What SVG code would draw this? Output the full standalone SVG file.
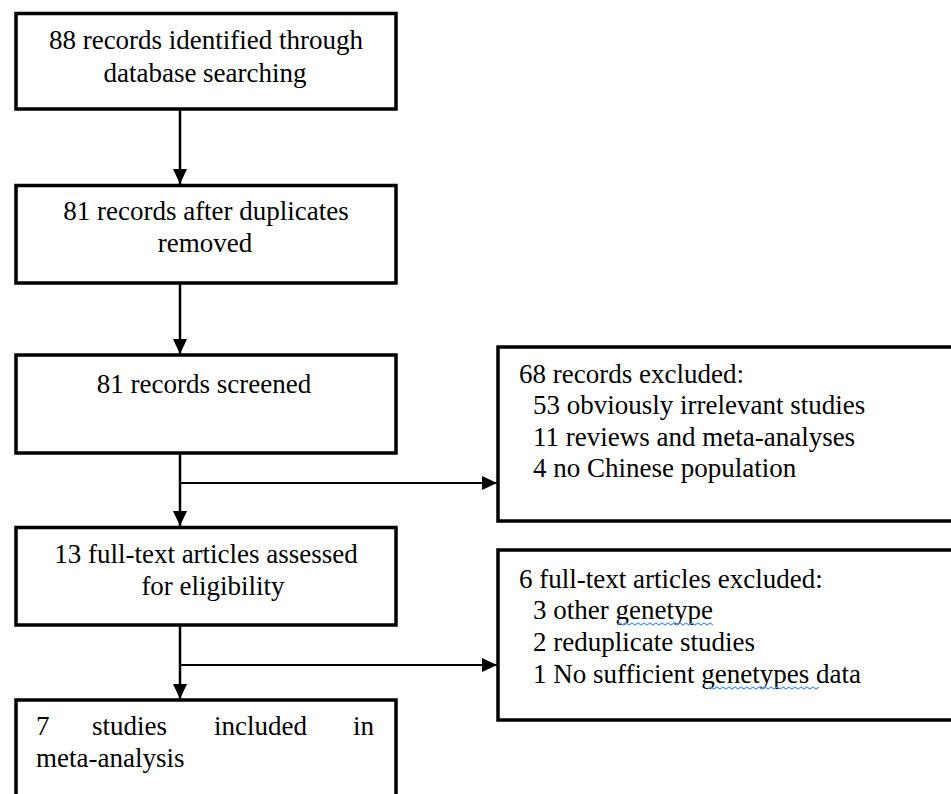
<svg xmlns="http://www.w3.org/2000/svg" width="951" height="794" viewBox="0 0 951 794">
<defs>
<style>
.box{fill:#fff;stroke:#000;stroke-width:3.5}
.ln{stroke:#000;fill:none}
.v{stroke-width:2.5}
.h{stroke-width:1.8}
.sq{stroke:#5a9be0;stroke-width:1.2;fill:none}
</style>
<marker id="ah" markerWidth="16" markerHeight="14" refX="15" refY="7" orient="auto" markerUnits="userSpaceOnUse">
<path d="M0,0 L15,7 L0,14 Z" fill="#000"/>
</marker>
</defs>
<rect width="951" height="794" fill="#fff"/>
<g id="connectors">
<line class="ln v" x1="180" y1="109" x2="180" y2="184" marker-end="url(#ah)"/>
<line class="ln v" x1="180" y1="283" x2="180" y2="354" marker-end="url(#ah)"/>
<line class="ln v" x1="180" y1="453" x2="180" y2="526" marker-end="url(#ah)"/>
<line class="ln v" x1="180" y1="625" x2="180" y2="699" marker-end="url(#ah)"/>
<line class="ln h" x1="180" y1="483" x2="497" y2="483" marker-end="url(#ah)"/>
<line class="ln h" x1="180" y1="665" x2="497" y2="665" marker-end="url(#ah)"/>
</g>
<g id="n1">
<rect class="box" x="16" y="13.5" width="380" height="95.5"/>
<text font-family="Liberation Serif" font-size="27" text-anchor="middle" x="206" y="49">88 records identified through</text>
<text font-family="Liberation Serif" font-size="27" text-anchor="middle" x="205" y="82">database searching</text>
</g>
<g id="n2">
<rect class="box" x="16" y="185.5" width="380" height="97.5"/>
<text font-family="Liberation Serif" font-size="27" text-anchor="middle" x="206" y="220">81 records after duplicates</text>
<text font-family="Liberation Serif" font-size="27" text-anchor="middle" x="205" y="252">removed</text>
</g>
<g id="n3">
<rect class="box" x="16" y="355" width="380" height="98"/>
<text font-family="Liberation Serif" font-size="27" text-anchor="middle" x="204" y="393">81 records screened</text>
</g>
<g id="n4">
<rect class="box" x="16" y="527.5" width="380" height="97.5"/>
<text font-family="Liberation Serif" font-size="27" text-anchor="middle" x="206" y="563">13 full-text articles assessed</text>
<text font-family="Liberation Serif" font-size="27" text-anchor="middle" x="213" y="595">for eligibility</text>
</g>
<g id="n5">
<rect class="box" x="16" y="700" width="380" height="110"/>
<text font-family="Liberation Serif" font-size="27" x="36" y="735">7</text>
<text font-family="Liberation Serif" font-size="27" x="92" y="735">studies</text>
<text font-family="Liberation Serif" font-size="27" x="214" y="735">included</text>
<text font-family="Liberation Serif" font-size="27" x="353" y="735">in</text>
<text font-family="Liberation Serif" font-size="27" x="36" y="767">meta-analysis</text>
</g>
<g id="e1">
<rect class="box" x="498" y="347" width="470" height="174"/>
<text font-family="Liberation Serif" font-size="27" x="519" y="383">68 records excluded:</text>
<text font-family="Liberation Serif" font-size="27" x="533" y="414">53 obviously irrelevant studies</text>
<text font-family="Liberation Serif" font-size="27" x="533" y="446">11 reviews and meta-analyses</text>
<text font-family="Liberation Serif" font-size="27" x="533" y="477">4 no Chinese population</text>
</g>
<g id="e2">
<rect class="box" x="498" y="550" width="470" height="170"/>
<text font-family="Liberation Serif" font-size="27" x="519" y="588">6 full-text articles excluded:</text>
<text font-family="Liberation Serif" font-size="27" x="533" y="619">3 other genetype</text>
<text font-family="Liberation Serif" font-size="27" x="533" y="651">2 reduplicate studies</text>
<text font-family="Liberation Serif" font-size="27" x="533" y="683">1 No sufficient genetypes data</text>
<path class="sq" d="M617,625 l3,-2 l3,2 l3,-2 l3,2 l3,-2 l3,2 l3,-2 l3,2 l3,-2 l3,2 l3,-2 l3,2 l3,-2 l3,2 l3,-2 l3,2 l3,-2 l3,2 l3,-2 l3,2 l3,-2 l3,2 l3,-2 l3,2 l3,-2 l3,2 l3,-2 l3,2 l3,-2 l3,2 l3,-2 l3,2"/>
<path class="sq" d="M708,689 l3,-2 l3,2 l3,-2 l3,2 l3,-2 l3,2 l3,-2 l3,2 l3,-2 l3,2 l3,-2 l3,2 l3,-2 l3,2 l3,-2 l3,2 l3,-2 l3,2 l3,-2 l3,2 l3,-2 l3,2 l3,-2 l3,2 l3,-2 l3,2 l3,-2 l3,2 l3,-2 l3,2 l3,-2 l3,2 l3,-2 l3,2 l3,-2 l3,2 l3,-2"/>
</g>
</svg>
